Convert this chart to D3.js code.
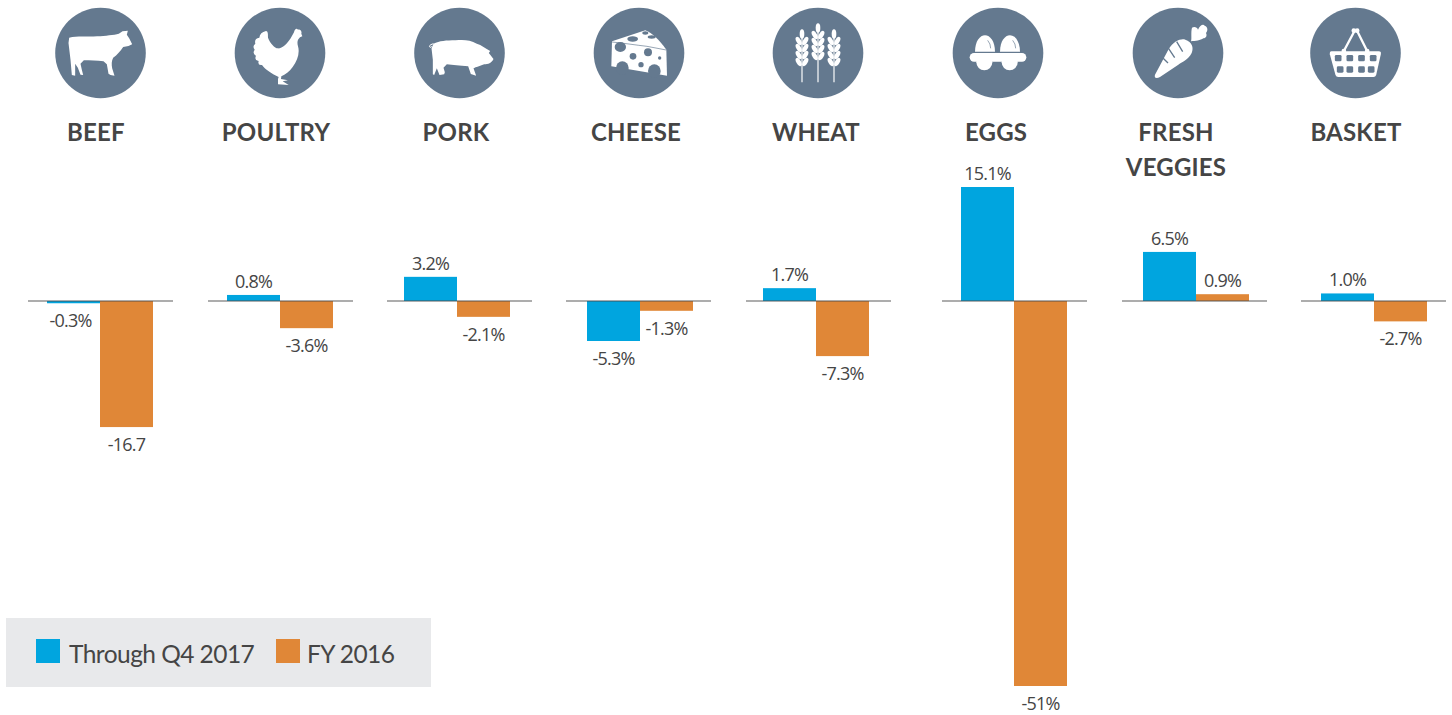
<!DOCTYPE html>
<html>
<head>
<meta charset="utf-8">
<script src="https://cdn.jsdelivr.net/npm/d3@7"></script>
<style>
  html, body { margin: 0; padding: 0; background: #fff; }
  svg { display: block; }
</style>
</head>
<body>
<svg id="chart" width="1452" height="715"></svg>
<script>
// Commodity price changes by category
const categories = ["Beef", "Poultry", "Pork", "Cheese", "Wheat", "Eggs", "Fresh Veggies", "Basket"];
const headings = [["BEEF"], ["POULTRY"], ["PORK"], ["CHEESE"], ["WHEAT"], ["EGGS"], ["FRESH", "VEGGIES"], ["BASKET"]];
const seriesNames = ["Through Q4 2017", "FY 2016"];
const through2017 = [-0.3, 0.8, 3.2, -5.3, 1.7, 15.1, 6.5, 1.0];
const fy2016 = [-16.7, -3.6, -2.1, -1.3, -7.3, -51, 0.9, -2.7];
const labels2017 = ["-0.3%", "0.8%", "3.2%", "-5.3%", "1.7%", "15.1%", "6.5%", "1.0%"];
const labels2016 = ["-16.7", "-3.6%", "-2.1%", "-1.3%", "-7.3%", "-51%", "0.9%", "-2.7%"];

// Layout: panels are hand-placed, so each category has its own axis, bar and icon columns
const axisStart = [28, 208, 387, 566, 746, 942, 1122, 1301];
const barCentre = [100, 280, 457, 640, 816, 1014, 1196, 1374];
const iconCentre = [100.5, 280, 459.5, 639, 818, 998, 1178, 1355.5];
const headingCentre = [96, 276, 456, 636, 816, 996, 1176, 1356];
const panelWidth = 145;

const colors = { blue: "#00a5df", orange: "#e08737", badge: "#64798f", text: "#454545", line: "#4a4a4a" };
const svg = d3.select("#chart");

const y = d3.scaleLinear().domain([-51, 15.1]).range([686, 187]);
const barX = d3.scaleOrdinal().domain(categories).range(barCentre);
const seriesX = d3.scaleBand().domain(seriesNames).range([-53, 53]);
const seriesColor = d3.scaleOrdinal().domain(seriesNames).range([colors.blue, colors.orange]);

// Silhouettes, drawn at 3x around each badge's centre
const W = "#fff", B = colors.badge;
const icons = {
  Beef(g) {
    g.append("path").attr("fill", W).attr("d",
      "M-94,-46 C-70,-52 -40,-48 -10,-50 C15,-52 40,-54 55,-58 L66,-65 L82,-67 L79,-55 L86,-44 L95,-26 L84,-21 L68,-18 C60,-6 50,6 38,14 C33,24 33,34 35,46 L42,68 L30,66 L24,62 L19,34 L9,25 C-10,22 -30,24 -50,22 L-60,32 L-56,50 L-52,66 L-60,65 L-68,44 L-76,32 L-76,68 L-86,66 L-90,20 L-96,-30 Z");
  },
  Poultry(g) {
    g.append("path").attr("fill", W).attr("d",
      "M42,-62 C44,-72 50,-76 54,-70 C62,-72 66,-64 64,-58 L67,-50 L60,-47 C54,-40 50,-36 54,-20 C60,0 52,24 38,42 C28,56 16,64 4,70 L3,78 L24,82 L8,85 L26,96 L-6,94 L-6,78 L-4,72 C-24,62 -44,50 -54,36 Q-68,38 -64,24 Q-78,22 -72,8 Q-84,2 -76,-10 Q-84,-20 -74,-28 Q-78,-44 -62,-46 Q-60,-62 -42,-66 C-36,-66 -36,-56 -36,-46 C-30,-30 -16,-14 -6,-14 C8,-12 22,-30 32,-44 C36,-50 38,-56 42,-62 Z");
  },
  Pork(g) {
    g.append("path").attr("fill", W).attr("d",
      "M-78,-28 C-60,-36 -40,-38 -12,-38 C10,-40 32,-40 52,-28 C66,-24 78,-14 92,-6 L88,0 L102,18 C96,30 86,34 74,34 L62,38 C50,42 44,44 42,46 L50,68 L34,63 L26,40 C0,38 -20,36 -38,34 L-48,44 L-44,58 L-46,64 L-60,66 L-68,46 L-76,66 L-80,64 L-80,20 L-84,-14 Z");
    g.append("path").attr("fill", "none").attr("stroke", W).attr("stroke-width", 3)
      .attr("d", "M-78,-28 C-84,-26 -90,-24 -90,-20 C-90,-16 -84,-16 -84,-20");
  },
  Cheese(g) {
    g.append("path").attr("fill", W).attr("d", "M19,-68 L-81,-35 L-83,40 L84,68 L82,-10 C60,-40 40,-60 19,-68 Z");
    g.append("path").attr("fill", "none").attr("stroke", B).attr("stroke-width", 2)
      .attr("d", "M-81,-33 C-50,-30 -10,-24 24,-20 L82,-9");
    const holes = [[-19, -42, 16, 8], [19, -60, 9, 5], [38, -48, 12, 5], [-56, -18, 17, 15], [27, -2, 12, 12],
      [-18, 10, 10, 10], [6, 35, 8, 8], [62, 15, 5, 5], [-50, 45, 19, 20], [46, 54, 19, 20]];
    g.selectAll("ellipse").data(holes).join("ellipse")
      .attr("cx", d => d[0]).attr("cy", d => d[1]).attr("rx", d => d[2]).attr("ry", d => d[3]).attr("fill", B);
  },
  Wheat(g) {
    [[-48, -70], [0, -88], [48, -70]].forEach(([sx, top]) => {
      const stalk = g.append("g").attr("transform", `translate(${sx},0)`);
      stalk.append("line").attr("x1", 0).attr("x2", 0).attr("y1", top + 20).attr("y2", 88)
        .attr("stroke", W).attr("stroke-width", 3.5);
      stalk.append("ellipse").attr("cx", 0).attr("cy", top + 13).attr("rx", 7).attr("ry", 14).attr("fill", W);
      for (let i = 0; i < 4; i++) {
        const gy = top + 34 + i * 21;
        [-1, 1].forEach(side => {
          stalk.append("ellipse").attr("rx", 7).attr("ry", 14)
            .attr("transform", `translate(${side * 10},${gy}) rotate(${side * 28})`)
            .attr("fill", W);
        });
      }
    });
  },
  Eggs(g) {
    [[-39, -41], [36, 35]].forEach(([cx, low]) => {
      g.append("path").attr("fill", W).attr("d",
        `M${cx - 30},-4 C${cx - 30},-35 ${cx - 15},-53 ${cx},-53 C${cx + 15},-53 ${cx + 30},-35 ${cx + 30},-4 Z`);
      g.append("path").attr("fill", "none").attr("stroke", B).attr("stroke-width", 2)
        .attr("d", `M${cx + 8},-38 Q${cx + 17},-28 ${cx + 17},-14`);
      g.append("circle").attr("cx", low).attr("cy", 28).attr("r", 24).attr("fill", W);
    });
    g.append("rect").attr("x", -85).attr("y", 0).attr("width", 170).attr("height", 26).attr("rx", 13).attr("fill", W);
  },
  "Fresh Veggies"(g) {
    g.append("path").attr("fill", W).attr("d",
      "M-69,65 L-29,-10 C-12,-38 10,-44 22,-40 C42,-34 48,-16 41,0 C32,20 10,28 1,35 L-54,72 C-66,78 -72,74 -69,65 Z");
    g.append("path").attr("fill", W).attr("d",
      "M39,-35 C42,-42 38,-62 42,-76 C48,-80 58,-78 60,-70 C66,-84 76,-88 80,-82 C90,-78 90,-68 84,-60 C88,-52 84,-44 76,-44 C68,-38 52,-36 39,-35 Z");
    g.append("path").attr("fill", "none").attr("stroke", B).attr("stroke-width", 4).attr("d",
      "M-4,-34 L14,-4 M-30,-16 L-10,14 M-46,14 L-30,30");
  },
  Basket(g) {
    g.append("path").attr("fill", "none").attr("stroke", W).attr("stroke-width", 7).attr("d", "M-35,-6 L-3,-66 M35,-6 L5,-66");
    [[-35, -6], [35, -6], [-5, -67], [5, -67]].forEach(([cx, cy]) => {
      g.append("circle").attr("cx", cx).attr("cy", cy).attr("r", 7).attr("fill", W);
    });
    g.append("path").attr("fill", W).attr("d",
      "M-72,-5 L70,-5 Q78,-5 76,4 L62,66 Q60,72 54,72 L-52,72 Q-58,72 -60,66 L-77,4 Q-78,-5 -72,-5 Z");
    [[16, [-52, -17, 18, 53]], [50, [-46, -17, 18, 47]]].forEach(([cy, cols]) => {
      cols.forEach(cx => {
        g.append("rect").attr("x", cx - 10).attr("y", cy - 10)
          .attr("width", 20).attr("height", 19).attr("rx", 4).attr("fill", B);
      });
    });
  }
};

// Badges and headings
categories.forEach((name, i) => {
  const badge = svg.append("g").attr("transform", `translate(${iconCentre[i]},53)`);
  badge.append("circle").attr("r", 45.3).attr("fill", colors.badge);
  const art = badge.append("g").attr("transform", "scale(0.3333)");
  icons[name](art);

  headings[i].forEach((line, k) => {
    svg.append("text").attr("x", headingCentre[i]).attr("y", 141 + k * 35)
      .attr("text-anchor", "middle").attr("fill", colors.text)
      .attr("font-family", "Lato, sans-serif").attr("font-weight", 700)
      .attr("font-size", 24).attr("letter-spacing", 0.2).text(line);
  });
});

// Bars, baselines and value labels
const rows = categories.map((c, i) => ({ category: c, start: axisStart[i], values: [
  { series: seriesNames[0], value: through2017[i], label: labels2017[i] },
  { series: seriesNames[1], value: fy2016[i], label: labels2016[i] }
]}));

const panels = svg.selectAll("g.panel").data(rows).join("g").attr("class", "panel")
  .attr("transform", d => `translate(${barX(d.category)},0)`);

panels.selectAll("rect").data(d => d.values).join("rect")
  .attr("x", d => seriesX(d.series))
  .attr("width", seriesX.bandwidth())
  .attr("y", d => Math.min(y(d.value), y(0)))
  .attr("height", d => Math.abs(y(d.value) - y(0)))
  .attr("fill", d => seriesColor(d.series));

panels.append("line")
  .attr("x1", d => d.start - barX(d.category))
  .attr("x2", d => d.start - barX(d.category) + panelWidth)
  .attr("y1", y(0)).attr("y2", y(0))
  .attr("stroke", colors.line).attr("stroke-width", 1.2).attr("stroke-opacity", 0.9);

panels.selectAll("text").data(d => d.values).join("text")
  .attr("x", d => seriesX(d.series) + seriesX.bandwidth() / 2 + (d.label === "-0.3%" ? -3 : 0))
  .attr("y", d => d.value >= 0 ? y(d.value) - 7 : y(d.value) + 24)
  .attr("text-anchor", "middle").attr("fill", colors.text)
  .attr("font-family", "'Open Sans', sans-serif").attr("font-size", 18).attr("letter-spacing", -0.8)
  .text(d => d.label);

// Legend
const legend = svg.append("g");
legend.append("rect").attr("x", 6).attr("y", 618).attr("width", 425).attr("height", 69).attr("fill", "#e8e9eb");
const keyX = d3.scaleOrdinal().domain(seriesNames).range([36, 276]);
const keyTextX = d3.scaleOrdinal().domain(seriesNames).range([69, 307]);
legend.selectAll("rect.key").data(seriesNames).join("rect").attr("class", "key")
  .attr("x", d => keyX(d)).attr("y", 639).attr("width", 24).attr("height", 24)
  .attr("fill", d => seriesColor(d));
legend.selectAll("text").data(seriesNames).join("text")
  .attr("x", d => keyTextX(d)).attr("y", 663)
  .attr("fill", colors.text).attr("font-family", "Lato, sans-serif")
  .attr("font-size", 24.5).attr("letter-spacing", -0.55).text(d => d);
</script>
</body>
</html>
